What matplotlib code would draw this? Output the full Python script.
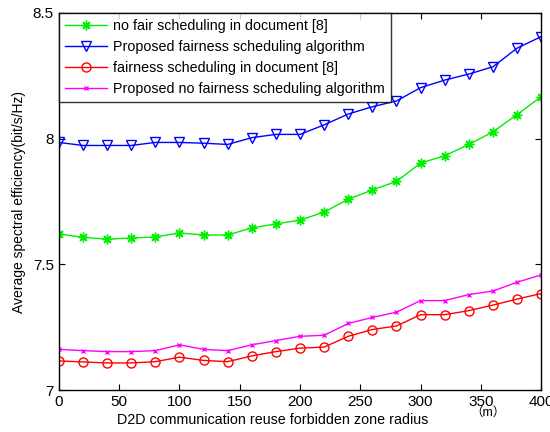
import numpy as np
import matplotlib
matplotlib.use('Agg')
import matplotlib.pyplot as plt

plt.rcParams['font.family'] = ['Liberation Sans', 'Noto Sans CJK SC', 'DejaVu Sans']

# 禁区半径 (m)
radius = [0, 20, 40, 60, 80, 100, 120, 140, 160, 180, 200,
          220, 240, 260, 280, 300, 320, 340, 360, 380, 400]

no_fair_doc8 = [7.621, 7.608, 7.600, 7.605, 7.609, 7.625, 7.617, 7.617, 7.645, 7.661, 7.676,
                7.708, 7.759, 7.796, 7.830, 7.903, 7.932, 7.977, 8.027, 8.096, 8.167]
prop_fair = [7.985, 7.973, 7.973, 7.973, 7.985, 7.985, 7.982, 7.977, 8.004, 8.017, 8.017,
             8.055, 8.098, 8.127, 8.150, 8.203, 8.233, 8.257, 8.286, 8.360, 8.406]
fair_doc8 = [7.116, 7.112, 7.108, 7.108, 7.113, 7.131, 7.118, 7.113, 7.136, 7.153, 7.167,
             7.171, 7.214, 7.241, 7.255, 7.300, 7.300, 7.316, 7.338, 7.362, 7.384]
prop_no_fair = [7.162, 7.157, 7.153, 7.153, 7.157, 7.180, 7.162, 7.157, 7.180, 7.197, 7.214,
                7.218, 7.265, 7.289, 7.310, 7.356, 7.356, 7.380, 7.394, 7.429, 7.458]

labels = ['no fair scheduling in document [8]',
          'Proposed fairness scheduling algorithm',
          'fairness scheduling in document [8]',
          'Proposed no fairness scheduling algorithm']

fig = plt.figure(figsize=(5.5, 4.32), dpi=100)
ax = fig.add_axes([0.107, 0.097, 0.877, 0.873])

ax.plot(radius, no_fair_doc8, color='#00ee00', lw=1, marker=(8, 2, 0), ms=7, mew=1, label=labels[0])
ax.plot(radius, prop_fair, color='#0000ff', lw=1, marker='v', ms=6.5, mfc='none', mew=1, label=labels[1])
ax.plot(radius, fair_doc8, color='#ff0000', lw=1, marker='o', ms=6.5, mfc='none', mew=1, label=labels[2])
ax.plot(radius, prop_no_fair, color='#ff00ff', lw=1, marker='x', ms=3.5, mew=1, label=labels[3])

ax.set_xlim(0, 400)
ax.set_ylim(7, 8.5)
ax.set_xticks(np.arange(0, 401, 50))
ax.set_yticks([7, 7.5, 8, 8.5])
ax.set_yticklabels(['7', '7.5', '8', '8.5'])
ax.tick_params(direction='in', top=True, right=True, labelsize=11, length=4)
for s in ax.spines.values():
    s.set_linewidth(1)

ax.set_ylabel('Average spectral efficiency(bit/s/Hz)', fontsize=10, labelpad=5)
fig.text(0.495, 0.028, 'D2D communication reuse forbidden zone radius', fontsize=10.3,
         ha='center', va='center')
fig.text(0.888, 0.044, '（m）', fontsize=9, ha='center', va='center')

leg = ax.legend(loc='upper left', fontsize=10.3, frameon=True, fancybox=False,
                borderaxespad=0, handlelength=3.0, borderpad=0.4, labelspacing=0.5,
                handletextpad=0.4)
leg.get_frame().set_edgecolor('black')
leg.get_frame().set_linewidth(1)

plt.savefig('out.png', dpi=100)
